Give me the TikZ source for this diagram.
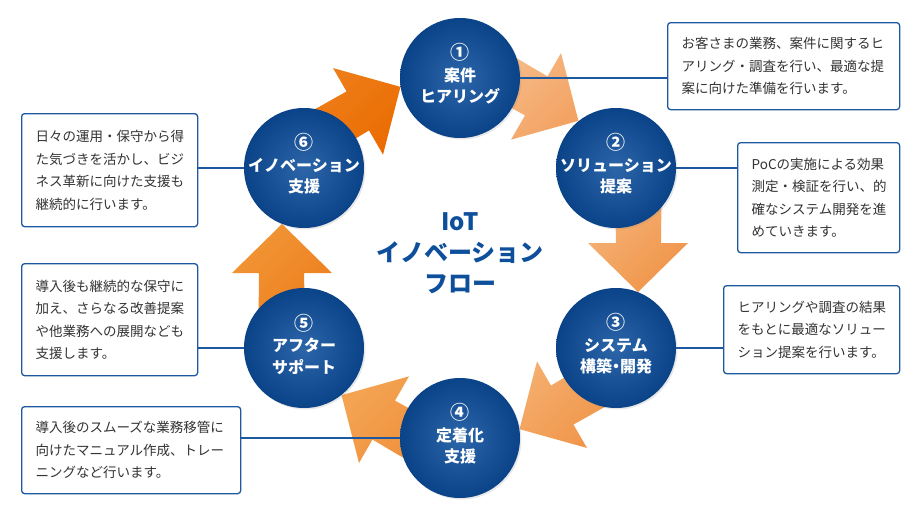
\documentclass[tikz,border=0pt]{standalone}
\usepackage{fontspec}
\newfontfamily\jp{Noto Sans CJK JP}
\usetikzlibrary{shadows}

\definecolor{circedge}{HTML}{0A4388}
\definecolor{circmid}{HTML}{2C65A8}
\definecolor{linkblue}{HTML}{1D58A0}
\definecolor{titleblue}{HTML}{0E4F9C}
\definecolor{boxtext}{HTML}{333333}
% arrow colours, light / deep
\definecolor{ara}{HTML}{F8C89C}\definecolor{arA}{HTML}{F3A465}
\definecolor{arb}{HTML}{F6BC85}\definecolor{arB}{HTML}{F0954A}
\definecolor{arc}{HTML}{F5B070}\definecolor{arC}{HTML}{EF8E40}
\definecolor{ard}{HTML}{F3A352}\definecolor{arD}{HTML}{EE8630}
\definecolor{are}{HTML}{F19535}\definecolor{arE}{HTML}{EC7818}
\definecolor{arf}{HTML}{EF8320}\definecolor{arF}{HTML}{EA6A00}

\tikzset{
  stepcircle/.style={circle, minimum size=120pt, inner sep=0pt,
    inner color=circmid, outer color=circedge,
    drop shadow={opacity=0.18, shadow xshift=1.5pt, shadow yshift=-1.5pt}},
  steplabel/.style={text=white, align=center,
    font=\jp\bfseries\fontsize{16}{21.5}\selectfont},
  infobox/.style={draw=linkblue, line width=1.3pt, rounded corners=3pt,
    fill=white, anchor=north west, inner xsep=14pt, inner ysep=0pt,
    text width=#1, align=left, text=boxtext,
    font=\jp\fontsize{13.5}{22.5}\selectfont},
  link/.style={draw=linkblue, line width=1.3pt},
  flowtitle/.style={text=titleblue, align=center,
    font=\jp\bfseries\fontsize{24}{31}\selectfont}
}
\newcommand{\cnum}[1]{{\fontsize{19}{22}\selectfont #1}}

\begin{document}
\begin{tikzpicture}[x=1pt,y=-1pt]
\useasboundingbox (0,0) rectangle (920,517);
\coordinate (hub) at (460,258);

% ring of arrows, one shape turned round the hub
\foreach \rot/\ca/\cb in {60/ara/arA, 0/arb/arB, -60/arc/arC,
                          -120/ard/arD, -180/are/arE, -240/arf/arF}
  \path[shift={(hub)}, rotate=\rot, top color=\ca, bottom color=\cb, shading angle=45]
    (154,-110) -- (156,-15) -- (128,-15) -- (178,34) -- (228,-15)
    -- (201,-15) -- (202,-110) -- cycle;

% steps
\node[stepcircle] (c1) at (460,78) {};
\node[stepcircle] (c2) at (616,168) {};
\node[stepcircle] (c3) at (616,348) {};
\node[stepcircle] (c4) at (460,438) {};
\node[stepcircle] (c5) at (304,348) {};
\node[stepcircle] (c6) at (304,168) {};

\node[steplabel] (t1) at ([yshift=4pt]c1.center) {\cnum{①}\\案件\\ヒアリング};
\node[steplabel] (t2) at ([yshift=4pt]c2.center) {\cnum{②}\\ソリューション\\提案};
\node[steplabel] (t3) at ([yshift=4pt]c3.center) {\cnum{③}\\システム\\構築\kern-4pt・\kern-4pt開発};
\node[steplabel] (t4) at ([yshift=4pt]c4.center) {\cnum{④}\\定着化\\支援};
\node[steplabel] (t5) at ([yshift=4pt]c5.center) {\cnum{⑤}\\アフター\\サポート};
\node[steplabel] (t6) at ([yshift=4pt]c6.center) {\cnum{⑥}\\イノベーション\\支援};

\node[flowtitle] (flow) at (460,253) {IoT\\イノベーション\\フロー};

% notes
\node[infobox=204pt, minimum height=87pt] (b1) at (667,22)
  {お客さまの業務、案件に関するヒ\\アリング・調査を行い、最適な提\\案に向けた準備を行います。};
\node[infobox=134pt, minimum height=110pt] (b2) at (737,142)
  {PoCの実施による効果\\測定・検証を行い、的\\確なシステム開発を進\\めていきます。};
\node[infobox=148pt, minimum height=88pt] (b3) at (723,285)
  {ヒアリングや調査の結果\\をもとに最適なソリュー\\ション提案を行います。};
\node[infobox=191pt, minimum height=87pt] (b4) at (21,406)
  {導入後のスムーズな業務移管に\\向けたマニュアル作成、トレー\\ニングなど行います。};
\node[infobox=148pt, minimum height=112pt] (b5) at (21,263)
  {導入後も継続的な保守に\\加え、さらなる改善提案\\や他業務への展開なども\\支援します。};
\node[infobox=148pt, minimum height=113pt] (b6) at (21,113)
  {日々の運用・保守から得\\た気づきを活かし、ビジ\\ネス革新に向けた支援も\\継続的に行います。};

\draw[link] (c1.east) -- (c1.east -| b1.west);
\draw[link] (c2.east) -- (c2.east -| b2.west);
\draw[link] (c3.east) -- (c3.east -| b3.west);
\draw[link] (c4.west) -- (c4.west -| b4.east);
\draw[link] (c5.west) -- (c5.west -| b5.east);
\draw[link] (c6.west) -- (c6.west -| b6.east);
\end{tikzpicture}
\end{document}
